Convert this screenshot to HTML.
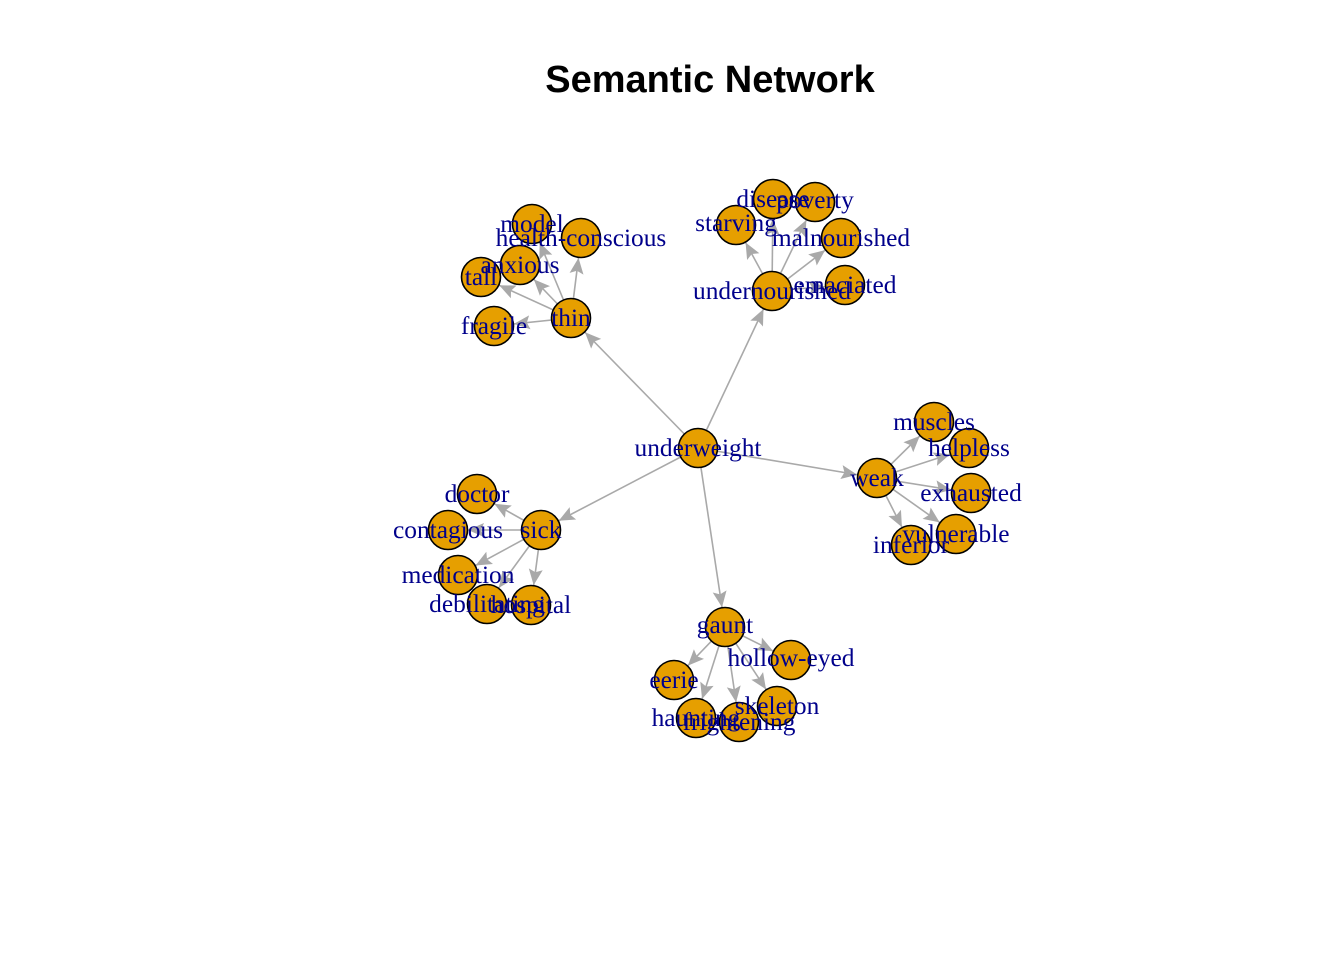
<!DOCTYPE html>
<html><head><meta charset="utf-8"><style>
html,body{margin:0;padding:0;background:#fff;}
svg{display:block;}
.l{stroke:#a9a9a9;stroke-width:1.6;fill:none;marker-end:url(#a);}
.n{fill:#E69F00;stroke:#000;stroke-width:1.6;}
.t{font-family:"Liberation Serif",serif;font-size:25.4px;fill:#00008B;text-anchor:middle;dominant-baseline:central;}
</style></head><body>
<svg width="1344" height="960" viewBox="0 0 1344 960">
<defs>
<marker id="a" markerUnits="userSpaceOnUse" markerWidth="60" markerHeight="20" refX="36" refY="7" orient="auto" viewBox="0 0 60 20" overflow="visible">
<path d="M0,0 L16,7 L0,14 L3,7 Z" fill="#a9a9a9"/>
</marker>
</defs>
<text x="710" y="92" font-family="Liberation Sans, sans-serif" font-weight="bold" font-size="38" text-anchor="middle">Semantic Network</text>
<g>
<line class="l" x1="698" y1="448" x2="571" y2="318"/>
<line class="l" x1="698" y1="448" x2="772" y2="291"/>
<line class="l" x1="698" y1="448" x2="877" y2="478"/>
<line class="l" x1="698" y1="448" x2="541" y2="530"/>
<line class="l" x1="698" y1="448" x2="725" y2="627"/>
<line class="l" x1="571" y1="318" x2="532" y2="224"/>
<line class="l" x1="571" y1="318" x2="581" y2="238"/>
<line class="l" x1="571" y1="318" x2="520" y2="265"/>
<line class="l" x1="571" y1="318" x2="481" y2="277"/>
<line class="l" x1="571" y1="318" x2="494" y2="326"/>
<line class="l" x1="772" y1="291" x2="773" y2="199"/>
<line class="l" x1="772" y1="291" x2="815" y2="202"/>
<line class="l" x1="772" y1="291" x2="736" y2="225"/>
<line class="l" x1="772" y1="291" x2="841" y2="238"/>
<line class="l" x1="772" y1="291" x2="845" y2="285"/>
<line class="l" x1="877" y1="478" x2="934" y2="422"/>
<line class="l" x1="877" y1="478" x2="969" y2="448"/>
<line class="l" x1="877" y1="478" x2="971" y2="493"/>
<line class="l" x1="877" y1="478" x2="956" y2="534"/>
<line class="l" x1="877" y1="478" x2="911" y2="545"/>
<line class="l" x1="541" y1="530" x2="477" y2="494"/>
<line class="l" x1="541" y1="530" x2="448" y2="530"/>
<line class="l" x1="541" y1="530" x2="458" y2="575"/>
<line class="l" x1="541" y1="530" x2="487" y2="604"/>
<line class="l" x1="541" y1="530" x2="531" y2="605"/>
<line class="l" x1="725" y1="627" x2="791" y2="660"/>
<line class="l" x1="725" y1="627" x2="674" y2="680"/>
<line class="l" x1="725" y1="627" x2="777" y2="706"/>
<line class="l" x1="725" y1="627" x2="696" y2="718"/>
<line class="l" x1="725" y1="627" x2="739" y2="722"/>
</g>
<g>
<circle class="n" cx="698" cy="448" r="19.5"/>
<circle class="n" cx="571" cy="318" r="19.5"/>
<circle class="n" cx="532" cy="224" r="19.5"/>
<circle class="n" cx="581" cy="238" r="19.5"/>
<circle class="n" cx="520" cy="265" r="19.5"/>
<circle class="n" cx="481" cy="277" r="19.5"/>
<circle class="n" cx="494" cy="326" r="19.5"/>
<circle class="n" cx="772" cy="291" r="19.5"/>
<circle class="n" cx="773" cy="199" r="19.5"/>
<circle class="n" cx="815" cy="202" r="19.5"/>
<circle class="n" cx="736" cy="225" r="19.5"/>
<circle class="n" cx="841" cy="238" r="19.5"/>
<circle class="n" cx="845" cy="285" r="19.5"/>
<circle class="n" cx="877" cy="478" r="19.5"/>
<circle class="n" cx="934" cy="422" r="19.5"/>
<circle class="n" cx="969" cy="448" r="19.5"/>
<circle class="n" cx="971" cy="493" r="19.5"/>
<circle class="n" cx="956" cy="534" r="19.5"/>
<circle class="n" cx="911" cy="545" r="19.5"/>
<circle class="n" cx="541" cy="530" r="19.5"/>
<circle class="n" cx="477" cy="494" r="19.5"/>
<circle class="n" cx="448" cy="530" r="19.5"/>
<circle class="n" cx="458" cy="575" r="19.5"/>
<circle class="n" cx="487" cy="604" r="19.5"/>
<circle class="n" cx="531" cy="605" r="19.5"/>
<circle class="n" cx="725" cy="627" r="19.5"/>
<circle class="n" cx="791" cy="660" r="19.5"/>
<circle class="n" cx="674" cy="680" r="19.5"/>
<circle class="n" cx="777" cy="706" r="19.5"/>
<circle class="n" cx="696" cy="718" r="19.5"/>
<circle class="n" cx="739" cy="722" r="19.5"/>
</g>
<g>
<text class="t" x="698" y="448">underweight</text>
<text class="t" x="571" y="318">thin</text>
<text class="t" x="532" y="224">model</text>
<text class="t" x="581" y="238">health-conscious</text>
<text class="t" x="520" y="265">anxious</text>
<text class="t" x="481" y="277">tall</text>
<text class="t" x="494" y="326">fragile</text>
<text class="t" x="772" y="291">undernourished</text>
<text class="t" x="773" y="199">disease</text>
<text class="t" x="815" y="200">poverty</text>
<text class="t" x="736" y="223">starving</text>
<text class="t" x="841" y="238">malnourished</text>
<text class="t" x="845" y="285">emaciated</text>
<text class="t" x="877" y="478">weak</text>
<text class="t" x="934" y="422">muscles</text>
<text class="t" x="969" y="448">helpless</text>
<text class="t" x="971" y="493">exhausted</text>
<text class="t" x="956" y="534">vulnerable</text>
<text class="t" x="911" y="545">inferior</text>
<text class="t" x="541" y="530">sick</text>
<text class="t" x="477" y="494">doctor</text>
<text class="t" x="448" y="530">contagious</text>
<text class="t" x="458" y="575">medication</text>
<text class="t" x="487" y="604">debilitating</text>
<text class="t" x="531" y="605">hospital</text>
<text class="t" x="725" y="625">gaunt</text>
<text class="t" x="791" y="658">hollow-eyed</text>
<text class="t" x="674" y="680">eerie</text>
<text class="t" x="777" y="706">skeleton</text>
<text class="t" x="696" y="718">haunting</text>
<text class="t" x="739" y="722">frightening</text>
</g>
</svg>
</body></html>
